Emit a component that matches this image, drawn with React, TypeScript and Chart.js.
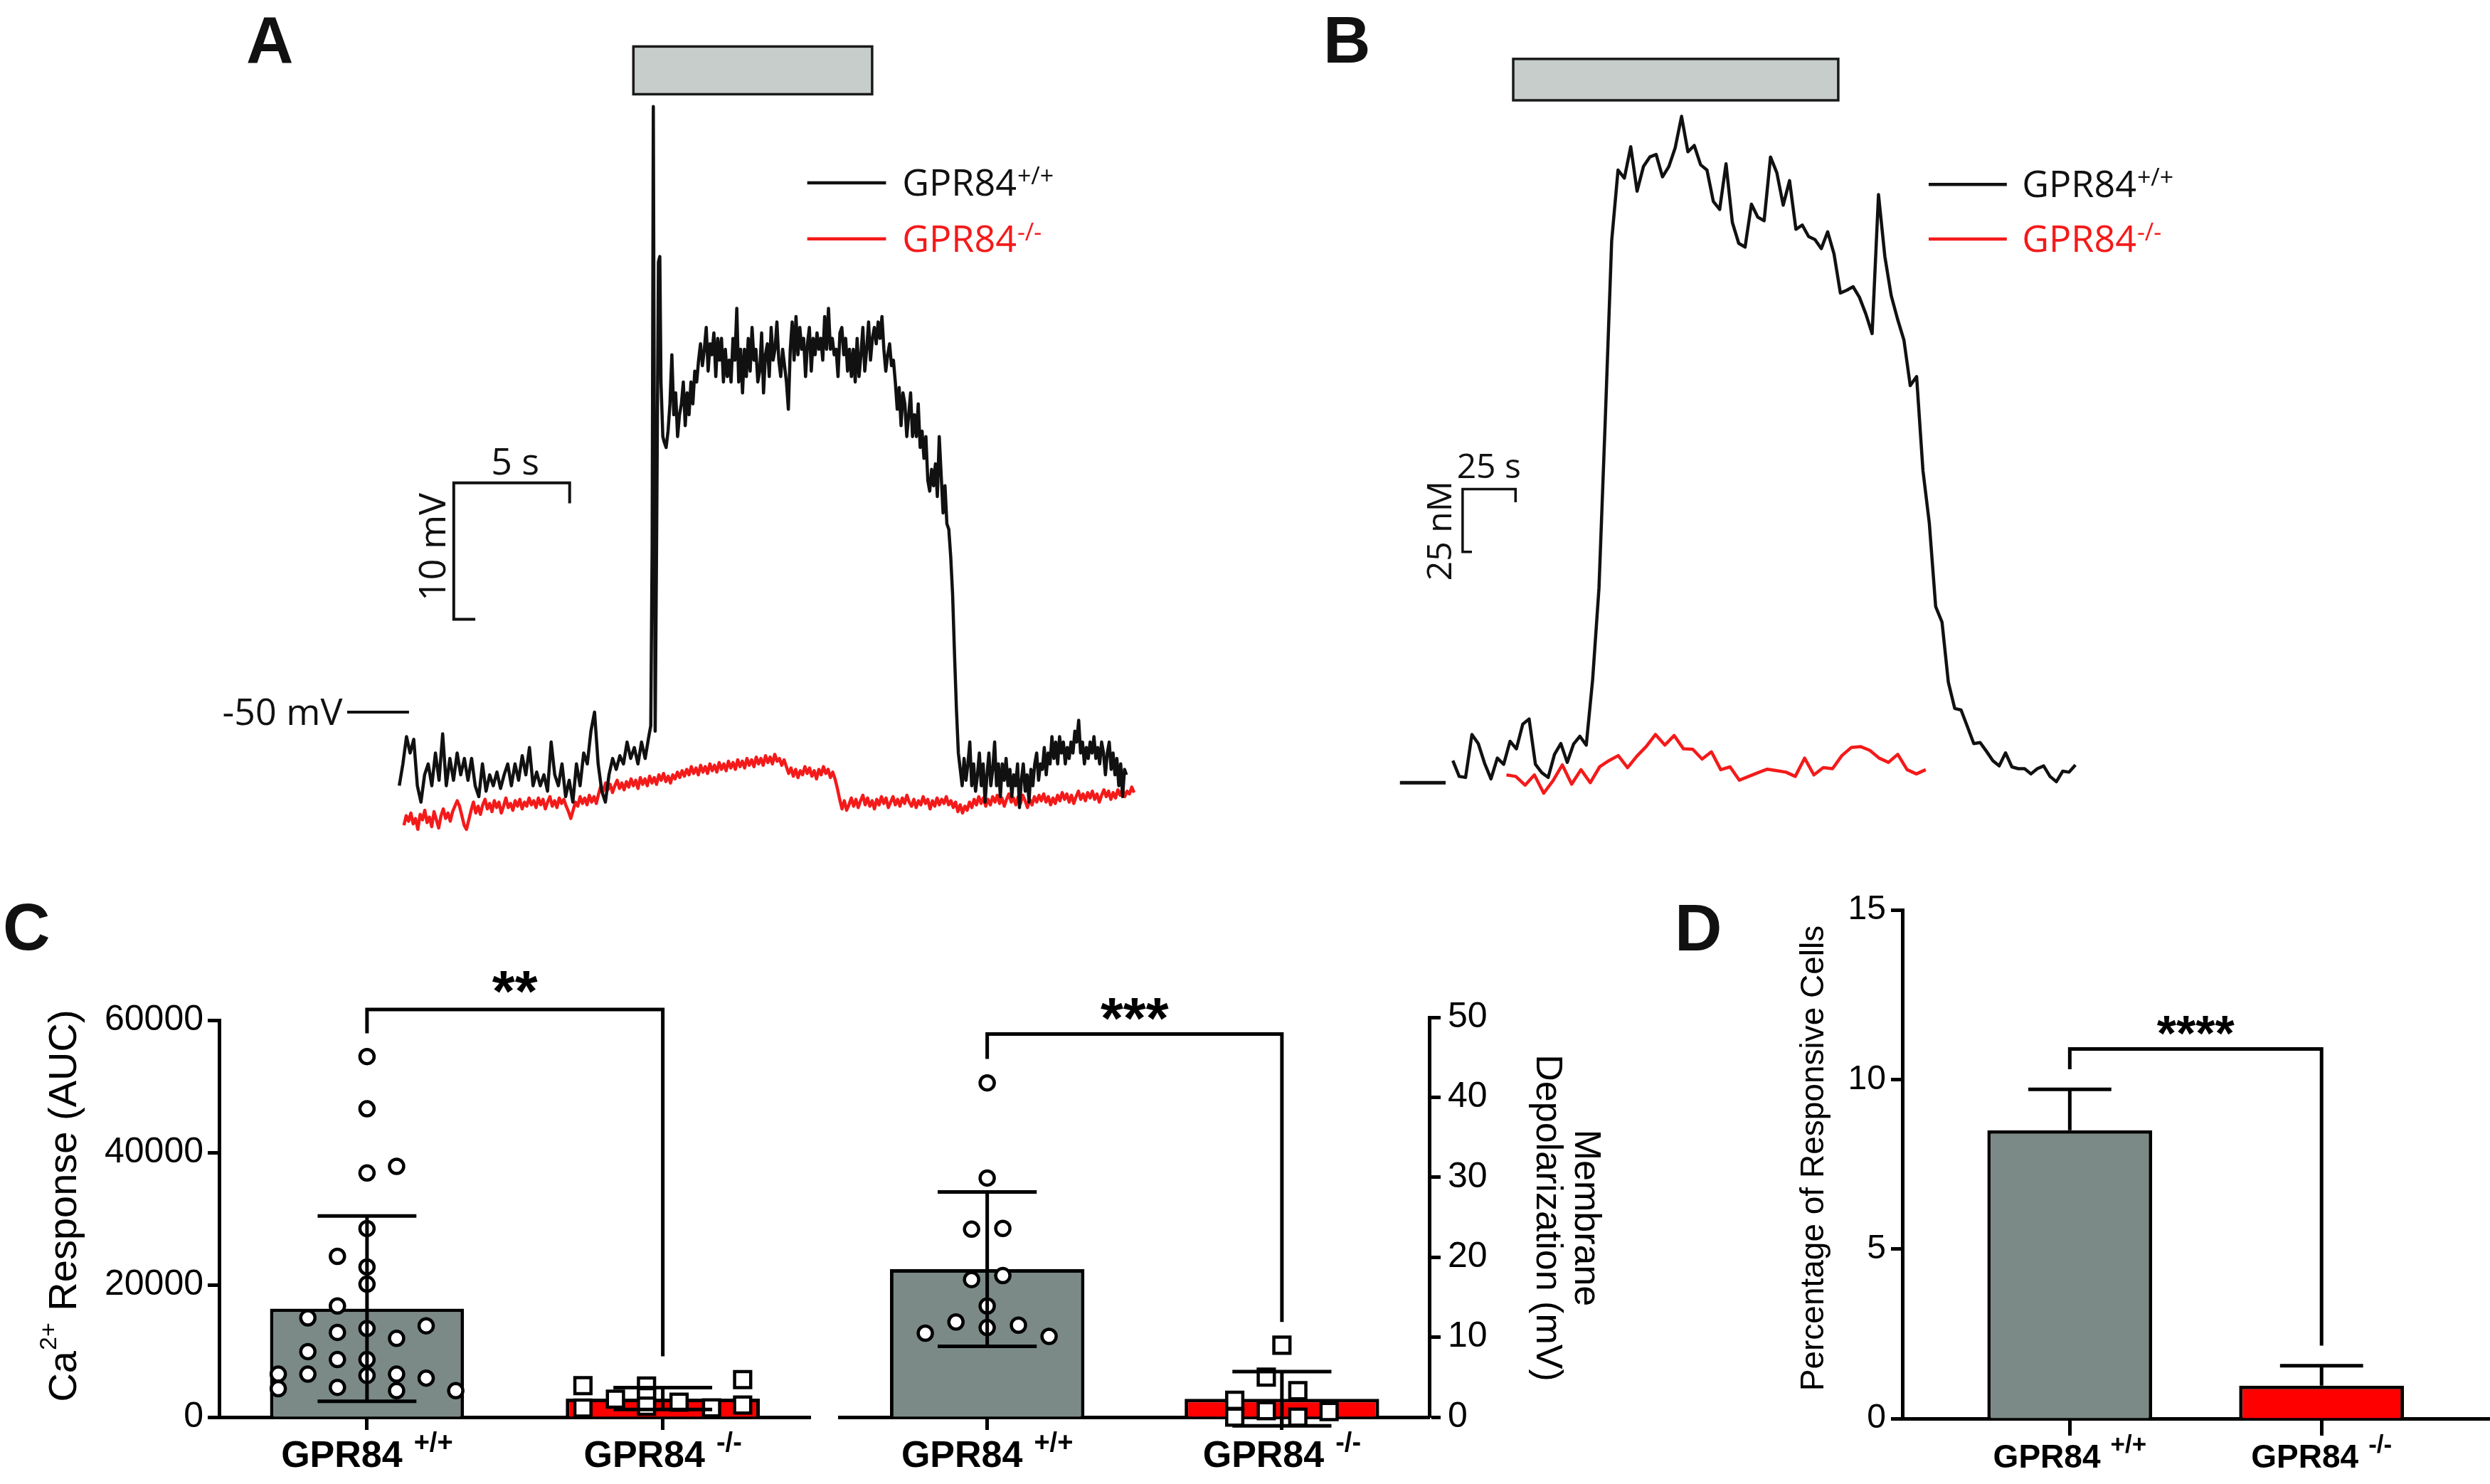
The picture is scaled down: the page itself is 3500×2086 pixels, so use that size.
import React, { useEffect, useRef } from "react";
import { Chart, registerables } from "chart.js";
Chart.register(...registerables);

// ---------------- Panel A: membrane potential traces (s, mV) ----------------
const A_WT_PRE_DT = 0.156;
const A_WT_PRE = [
  -55.4, -53.8, -51.8, -53.0, -52.0, -55.4, -56.6, -54.6, -53.8, -55.4,
  -53.0, -55.0, -51.6, -55.4, -53.4, -55.0, -53.0, -54.6, -53.4, -55.0,
  -53.4, -55.4, -56.2, -53.8, -55.8, -54.6, -55.4, -54.4, -55.6, -54.6,
  -53.8, -55.4, -53.8, -55.0, -53.2, -54.6, -52.6, -55.4, -54.4, -55.4,
  -54.6, -55.8, -52.2, -54.6, -55.4, -53.8, -56.2, -55.0, -56.6, -53.8,
  -55.4, -53.0, -53.8, -51.4, -50.0, -53.8, -55.8, -56.6, -54.6, -53.4,
  -54.2, -53.2, -53.8, -52.2, -53.4, -52.6, -53.8, -52.2, -53.4, -51.8,
];
const A_WT_SPIKE: [number, number][] = [
  [10.85, -51.0], [10.91, -37.8], [10.96, -5.6], [11.04, -51.4], [11.1, -37.8],
  [11.18, -17.0], [11.24, -16.6], [11.29, -25.8], [11.37, -29.8],
];
const A_WT_POST_T0 = 11.43;
const A_WT_POST_DT = 0.0824;
const A_WT_POST = [
  -30.2, -30.6, -29.4, -27.4, -23.8, -28.2, -26.6, -29.8, -28.2, -27.4,
  -25.8, -29.0, -26.6, -28.2, -25.8, -27.4, -25.0, -25.8, -24.2, -23.0,
  -24.6, -23.4, -21.8, -25.0, -23.0, -23.8, -22.2, -25.4, -22.6, -24.2,
  -22.6, -25.8, -23.4, -25.4, -24.2, -25.8, -22.6, -24.2, -20.4, -25.8,
  -23.4, -26.6, -23.4, -25.4, -22.6, -25.0, -21.8, -24.2, -23.4, -25.8,
  -25.0, -22.2, -26.6, -23.8, -23.0, -25.4, -21.8, -24.2, -23.4, -21.4,
  -24.2, -25.4, -23.4, -24.6, -25.8, -27.8, -23.4, -21.4, -24.2, -21.0,
  -23.8, -21.8, -23.4, -22.6, -25.4, -23.0, -21.8, -25.0, -22.6, -23.8,
  -22.2, -23.4, -22.6, -24.2, -21.0, -23.4, -20.4, -23.4, -22.6, -23.8,
  -23.4, -25.4, -22.2, -21.8, -23.8, -22.6, -25.0, -23.4, -25.4, -23.4,
  -25.8, -22.6, -25.4, -23.8, -21.8, -25.0, -23.4, -21.4, -24.2, -22.6,
  -21.8, -23.0, -21.4, -22.6, -21.0, -23.4, -25.0, -23.8, -23.0, -24.6,
  -24.2, -25.8, -27.8, -26.2, -29.0, -26.6, -27.4, -29.8, -28.2, -26.6,
  -29.8, -28.2, -29.8, -27.4, -30.6, -29.4, -31.4, -29.8, -33.0, -33.8,
  -32.2, -33.4, -31.8, -34.2, -29.8, -32.6, -35.4, -33.4, -36.2, -36.6,
  -38.6, -41.4, -45.8, -49.8, -53.0, -54.2, -55.4, -53.4, -55.0, -53.8,
  -52.2, -55.4, -53.8, -55.8, -54.6, -53.0, -55.4, -53.8, -56.6, -54.6,
  -53.0, -55.4, -54.2, -52.2, -55.4, -53.8, -56.2, -53.8, -55.0, -53.4,
  -55.4, -54.2, -56.2, -54.6, -55.4, -53.8, -57.0, -55.0, -53.8, -55.8,
  -54.6, -56.6, -54.2, -55.4, -53.8, -53.0, -55.0, -53.8, -54.2, -52.6,
  -54.6, -53.0, -53.8, -51.8, -53.4, -52.2, -53.8, -51.8, -53.0, -52.2,
  -53.8, -52.6, -53.4, -52.2, -53.0, -51.4, -52.2, -50.6, -53.0, -52.2,
  -53.8, -52.6, -53.4, -52.2, -53.0, -51.8, -53.4, -52.6, -53.8, -52.2,
  -53.0, -54.6, -53.0, -52.2, -54.2, -53.0, -54.6, -53.4, -55.4, -53.8,
  -56.2, -54.2, -54.6,
];
const A_KO_T0 = 0.2;
const A_KO_DT = 0.1;
const A_KO = [
  -58.3, -57.6, -58.0, -57.4, -58.2, -57.8, -58.6, -57.5, -57.9, -57.2,
  -58.1, -57.7, -58.4, -57.3, -57.9, -58.5, -57.6, -57.1, -57.8, -57.4,
  -58.0, -57.3, -56.9,
  -56.5, -56.9, -57.6, -58.3, -58.6, -57.9,
  -57.2, -56.6, -57.4, -56.9, -57.5, -56.8, -56.4, -57.1, -56.7, -57.3,
  -56.5, -57.0, -56.6, -57.4, -56.9, -56.3, -57.0, -56.7, -57.2, -56.5,
  -56.9, -56.4, -57.1, -56.6, -56.9, -56.3, -56.8,
  -56.5, -57.0, -56.3, -56.8, -56.4, -57.1, -56.6, -56.2, -56.9, -56.5,
  -57.0, -56.3, -56.7, -56.4, -56.9, -57.3, -57.8, -57.2, -56.6, -56.9,
  -56.2, -56.7, -56.3, -56.8, -56.1, -56.6, -56.2, -56.7, -56.0,
  -55.4, -55.8, -55.2, -55.7, -55.3, -55.9, -55.4, -55.0, -55.6, -55.2,
  -55.7, -55.1, -55.5, -54.9, -55.4, -55.0, -55.6, -54.8, -55.3, -54.9,
  -55.4, -54.7, -55.2, -54.8, -55.3, -54.6, -55.0, -54.5, -55.1, -54.7,
  -55.2, -54.6, -54.9, -54.4,
  -54.8, -54.3, -54.7, -54.2, -54.6, -54.0, -54.5, -54.1, -54.6, -53.9,
  -54.4, -54.0, -54.5, -53.8, -54.3, -53.9, -54.4, -53.7, -54.2, -53.8,
  -54.3, -53.6, -54.1, -53.7, -54.2, -53.5, -54.0, -53.6, -54.1, -53.4,
  -53.9, -53.5, -54.0, -53.3, -53.8, -53.4, -53.9, -53.2, -53.7, -53.3,
  -53.8, -53.1, -53.6, -53.4, -53.9, -53.5,
  -54.0, -54.5, -54.1, -54.7, -54.2, -54.8, -54.3, -54.6, -54.0, -54.5,
  -54.1, -54.7, -54.3, -54.9, -54.2, -54.6, -54.0, -54.5, -54.2, -54.8,
  -54.4, -54.9,
  -55.6, -56.4, -57.1, -56.5, -57.2, -56.8,
  -56.3, -56.9, -56.4, -57.0, -56.5, -56.1, -56.8, -56.3, -56.9, -56.5,
  -57.1, -56.4, -56.8, -56.2, -56.7, -56.3, -57.0, -56.6, -56.2, -56.8,
  -56.4, -56.9, -56.3, -56.7, -56.1, -56.6, -56.9, -56.4, -57.0, -56.5,
  -56.8, -56.2, -56.7, -56.4, -57.1, -56.5, -56.9, -56.3, -56.8, -56.4,
  -56.7, -56.2, -56.8, -56.5, -57.0, -56.6, -57.3, -56.8, -57.4, -56.9,
  -57.2, -56.6, -57.0, -56.4, -56.8, -56.2, -56.7, -56.3, -56.9, -56.4,
  -56.8, -56.2, -56.6, -56.1, -56.7, -56.3, -56.9, -56.4, -56.0, -56.6,
  -56.3, -56.8, -56.2, -56.7, -56.1, -56.5, -57.0, -56.4, -56.8, -56.2,
  -56.6, -56.1, -56.5, -56.0, -56.6, -56.2, -56.8, -56.3, -56.7, -56.1,
  -56.5, -55.9, -56.4, -56.0, -56.6, -56.1, -56.7, -56.2, -55.8, -56.4,
  -56.0, -56.5, -55.9, -56.3, -55.8, -56.4, -56.0, -56.6, -56.1, -55.7,
  -56.2, -55.8, -56.4, -55.9, -56.3, -55.7, -56.1, -55.6, -56.2, -55.8,
  -56.0, -55.5, -55.9,
];
const A_STIM_T = [10.1, 20.4];
const A_STIM_V = [-4.7, -1.2];
const A_SCALE = { t0: 2.35, dt: 5, v0: -33.2, dv: 10, tick: 1.5, foot: 0.93 };
const A_REST_MV = -50;

// ---------------- Panel B: calcium traces (s, nM) ----------------
const B_WT_DT = 3.0;
const B_WT = [
  8.8, 2.5, 2.1, 19.2, 15.6, 7.7, 1.5, 9.8, 7.3, 16.5,
  13.5, 23.3, 25.4, 7.3, 4.0, 2.1, 11.3, 15.6, 8.1, 15.4,
  18.5, 15.0, 41.0, 77.5, 145.2, 216.0, 244.2, 241.0, 253.5, 235.8,
  245.6, 249.4, 250.4, 241.5, 245.6, 253.1, 265.6, 251.5, 254.0, 246.3,
  244.2, 231.7, 228.5, 246.7, 223.3, 215.0, 213.5, 230.6, 225.4, 224.0,
  249.4, 243.1, 230.2, 240.0, 220.6, 222.3, 217.7, 216.5, 212.9, 219.6,
  210.8, 195.2, 196.3, 197.7, 193.5, 186.9, 179.0, 234.4, 209.8, 194.2,
  184.8, 176.5, 158.3, 161.9, 124.4, 103.5, 70.2, 64.0, 40.0, 29.6,
  29.0, 22.3, 15.6, 16.0, 12.5, 8.8, 6.7, 11.9, 6.3, 5.6,
  5.6, 3.5, 5.6, 6.7, 2.5, 0.4, 4.6, 4.2, 7.1,
];
const B_KO_T0 = 25.3;
const B_KO_DT = 4.4;
const B_KO = [
  3.1, 2.5, -1.0, 3.1, -4.2, 0.8, 7.1, -0.6, 5.2, 0,
  6.3, 8.8, 10.8, 6.0, 10.6, 14.4, 19.2, 15.0, 18.8, 13.5,
  13.3, 9.4, 12.3, 5.2, 6.3, 1.0, 2.5, 4.0, 5.4, 4.8,
  4.2, 2.5, 9.8, 3.1, 6.0, 5.6, 10.8, 14.0, 14.4, 12.9,
  9.8, 8.1, 11.3, 5.2, 3.5, 5.2,
];
const B_STIM_T = [28.5, 182];
const B_STIM_C = [272, 288.5];
const B_SCALE = { t0: 4.6, dt: 25, c0: 117, dc: 25, tick: 5.2, foot: 4.4 };

// ---------------- Panel C ----------------
const GROUPS = ["GPR84", "GPR84"];
const GROUP_SUP = ["+/+", "-/-"];
const C_AUC_MEAN = [16400, 2800];
const C_AUC_SD = [14000, 1650];
const C_AUC_WT = [54500, 46600, 36900, 37900, 28500, 24300, 22700, 20100, 16800, 15000, 13800, 13400, 12800, 11900, 9900, 8700, 8700, 6500, 6500, 6300, 6500, 5900, 4300, 4500, 4000, 4000];
const C_AUC_WT_JIT = [0, 0, 0, 0.1, 0, -0.1, 0, 0, -0.1, -0.2, 0.2, 0, -0.1, 0.1, -0.2, -0.1, 0, -0.3, -0.2, 0, 0.1, 0.2, -0.3, -0.1, 0.1, 0.3];
const C_AUC_KO = [4760, 1370, 2720, 4700, 3090, 1650, 2260, 1400, 5670, 1830];
const C_AUC_KO_JIT = [-0.27, -0.27, -0.16, -0.055, -0.055, -0.055, 0.055, 0.165, 0.27, 0.27];
const C_AUC_SIG = { top: 61600, left: 58000, right: 9200, label: "**" };

const C_MV_MEAN = [18.5, 2.3];
const C_MV_SD = [9.65, 3.4];
const C_MV_WT = [41.8, 29.9, 23.5, 23.6, 17.2, 17.7, 13.9, 11.9, 11.5, 11.2, 10.5, 10.1];
const C_MV_WT_JIT = [0, 0, -0.053, 0.053, -0.053, 0.053, 0, -0.106, 0.106, 0, -0.21, 0.21];
const C_MV_KO = [9.0, 5.0, 3.3, 2.1, 0, 0.8, 0, 0.7];
const C_MV_KO_JIT = [0, -0.053, 0.054, -0.16, -0.16, -0.053, 0.054, 0.16];
const C_MV_SIG = { top: 47.9, left: 44.8, right: 11.9, label: "***" };

// ---------------- Panel D ----------------
const D_MEAN = [8.5, 0.97];
const D_SEM = [1.21, 0.59];
const D_SIG = { top: 10.9, left: 10.3, right: 2.15, label: "****" };

// ---------------- styles ----------------
const GRAY = "#7b8a87";
const RED = "#ff0000";
const RED_TRACE = "#f41a1a";
const INK = "#111111";
const STIM_FILL = "#c6cdca";
const SANS = '"Liberation Sans", Arial, sans-serif';
const OPEN = '"Open Sans", "Liberation Sans", sans-serif';

type Part = { text: string; font: string; rise?: number; gap?: number };

function drawParts(ctx: CanvasRenderingContext2D, parts: Part[], x: number, y: number, align: "left" | "center" | "right", color: string) {
  ctx.save();
  ctx.fillStyle = color;
  ctx.textBaseline = "alphabetic";
  ctx.textAlign = "left";
  const widths = parts.map((p) => {
    ctx.font = p.font;
    return ctx.measureText(p.text).width + (p.gap || 0);
  });
  const total = widths.reduce((a, b) => a + b, 0);
  let cx = align === "left" ? x : align === "center" ? x - total / 2 : x - total;
  parts.forEach((p, i) => {
    ctx.font = p.font;
    cx += p.gap || 0;
    ctx.fillText(p.text, cx, y - (p.rise || 0));
    cx += widths[i] - (p.gap || 0);
  });
  ctx.restore();
}

function drawRotated(ctx: CanvasRenderingContext2D, parts: Part[], x: number, y: number, angle: number, color: string) {
  ctx.save();
  ctx.translate(x, y);
  ctx.rotate(angle);
  drawParts(ctx, parts, 0, 0, "center", color);
  ctx.restore();
}

function inkCenterText(ctx: CanvasRenderingContext2D, text: string, cx: number, cy: number, font: string, color: string) {
  ctx.save();
  ctx.font = font;
  ctx.fillStyle = color;
  ctx.textAlign = "center";
  ctx.textBaseline = "alphabetic";
  const m = ctx.measureText(text);
  ctx.fillText(text, cx, cy + (m.actualBoundingBoxAscent - m.actualBoundingBoxDescent) / 2);
  ctx.restore();
}

function legendRow(ctx: CanvasRenderingContext2D, x0: number, x1: number, y: number, tx: number, color: string, lw: number, sup: string) {
  ctx.save();
  ctx.strokeStyle = color;
  ctx.lineWidth = lw;
  ctx.beginPath();
  ctx.moveTo(x0, y);
  ctx.lineTo(x1, y);
  ctx.stroke();
  ctx.restore();
  drawParts(ctx, [
    { text: "GPR84", font: `52px ${OPEN}` },
    { text: sup, font: `34px ${OPEN}`, rise: 16, gap: 1 },
  ], tx, y + 18, "left", color);
}

// ---------------- generic chart box ----------------
function ChartBox({ left, top, width, height, make }: { left: number; top: number; width: number; height: number; make: () => any }) {
  const ref = useRef<HTMLCanvasElement | null>(null);
  useEffect(() => {
    const chart = new Chart(ref.current as HTMLCanvasElement, make());
    return () => chart.destroy();
  }, []);
  return <canvas ref={ref} width={width} height={height} style={{ position: "absolute", left, top, width, height }} />;
}

const baseOpts = {
  responsive: false,
  animation: false,
  devicePixelRatio: 1,
  events: [],
  plugins: { legend: { display: false }, tooltip: { enabled: false } },
};

// ---------------- Panel A ----------------
function makeA() {
  const wt = [
    ...A_WT_PRE.map((v, i) => ({ x: i * A_WT_PRE_DT, y: v })),
    ...A_WT_SPIKE.map(([x, y]) => ({ x, y })),
    ...A_WT_POST.map((v, i) => ({ x: A_WT_POST_T0 + i * A_WT_POST_DT, y: v })),
  ];
  const ko = A_KO.map((v, i) => ({ x: A_KO_T0 + i * A_KO_DT, y: v }));
  const plugin = {
    id: "annA",
    afterDatasetsDraw(chart: any) {
      const ctx: CanvasRenderingContext2D = chart.ctx;
      const X = (v: number) => chart.scales.x.getPixelForValue(v);
      const Y = (v: number) => chart.scales.y.getPixelForValue(v);
      ctx.save();
      ctx.fillStyle = STIM_FILL;
      ctx.strokeStyle = "#1a1a1a";
      ctx.lineWidth = 3.5;
      const sx = X(A_STIM_T[0]), sw = X(A_STIM_T[1]) - sx, sy = Y(A_STIM_V[1]), sh = Y(A_STIM_V[0]) - sy;
      ctx.fillRect(sx, sy, sw, sh);
      ctx.strokeRect(sx, sy, sw, sh);
      const s = A_SCALE;
      ctx.strokeStyle = INK;
      ctx.lineWidth = 4;
      ctx.lineJoin = "miter";
      ctx.beginPath();
      ctx.moveTo(X(s.t0 + s.dt), Y(s.v0 - s.tick));
      ctx.lineTo(X(s.t0 + s.dt), Y(s.v0));
      ctx.lineTo(X(s.t0), Y(s.v0));
      ctx.lineTo(X(s.t0), Y(s.v0 - s.dv));
      ctx.lineTo(X(s.t0 + s.foot), Y(s.v0 - s.dv));
      ctx.stroke();
      ctx.beginPath();
      ctx.moveTo(X(-2.25), Y(A_REST_MV));
      ctx.lineTo(X(0.42), Y(A_REST_MV));
      ctx.stroke();
      ctx.restore();
      drawParts(ctx, [{ text: "5 s", font: `52px ${OPEN}` }], X(5.0), Y(s.v0) - 12, "center", INK);
      drawRotated(ctx, [{ text: "10 mV", font: `52px ${OPEN}` }], X(1.98), Y(-37.9), -Math.PI / 2, INK);
      drawParts(ctx, [{ text: "-50 mV", font: `52px ${OPEN}` }], X(-2.45), Y(A_REST_MV) + 18, "right", INK);
      legendRow(ctx, X(17.6), X(21.0), Y(-11.2), X(21.7), INK, 4.5, "+/+");
      legendRow(ctx, X(17.6), X(21.0), Y(-15.3), X(21.7), RED_TRACE, 4.5, "-/-");
    },
  };
  return {
    type: "scatter",
    data: {
      datasets: [
        { data: wt, showLine: true, borderColor: INK, borderWidth: 4.5, pointRadius: 0, tension: 0, borderJoinStyle: "round", clip: false },
        { data: ko, showLine: true, borderColor: RED_TRACE, borderWidth: 4.5, pointRadius: 0, tension: 0, borderJoinStyle: "round", clip: false },
      ],
    },
    options: {
      ...baseOpts,
      layout: { padding: 0 },
      scales: {
        x: { type: "linear", min: -9, max: 34, display: false },
        y: { type: "linear", min: -62, max: 2, display: false },
      },
    },
    plugins: [plugin],
  };
}

// ---------------- Panel B ----------------
function makeB() {
  const wt = B_WT.map((v, i) => ({ x: i * B_WT_DT, y: v }));
  const ko = B_KO.map((v, i) => ({ x: B_KO_T0 + i * B_KO_DT, y: v }));
  const plugin = {
    id: "annB",
    afterDatasetsDraw(chart: any) {
      const ctx: CanvasRenderingContext2D = chart.ctx;
      const X = (v: number) => chart.scales.x.getPixelForValue(v);
      const Y = (v: number) => chart.scales.y.getPixelForValue(v);
      ctx.save();
      ctx.fillStyle = STIM_FILL;
      ctx.strokeStyle = "#1a1a1a";
      ctx.lineWidth = 3.5;
      const sx = X(B_STIM_T[0]), sw = X(B_STIM_T[1]) - sx, sy = Y(B_STIM_C[1]), sh = Y(B_STIM_C[0]) - sy;
      ctx.fillRect(sx, sy, sw, sh);
      ctx.strokeRect(sx, sy, sw, sh);
      const s = B_SCALE;
      ctx.strokeStyle = INK;
      ctx.lineWidth = 3.5;
      ctx.beginPath();
      ctx.moveTo(X(s.t0 + s.dt), Y(s.c0 - s.tick));
      ctx.lineTo(X(s.t0 + s.dt), Y(s.c0));
      ctx.lineTo(X(s.t0), Y(s.c0));
      ctx.lineTo(X(s.t0), Y(s.c0 - s.dc));
      ctx.lineTo(X(s.t0 + s.foot), Y(s.c0 - s.dc));
      ctx.stroke();
      ctx.lineWidth = 5;
      ctx.beginPath();
      ctx.moveTo(X(-25), Y(0));
      ctx.lineTo(X(-3.4), Y(0));
      ctx.stroke();
      ctx.restore();
      drawParts(ctx, [{ text: "25 s", font: `48px ${OPEN}` }], X(17), Y(121.3), "center", INK);
      drawRotated(ctx, [{ text: "25 nM", font: `48px ${OPEN}` }], X(-0.6), Y(100.4), -Math.PI / 2, INK);
      legendRow(ctx, X(224.7), X(261.6), Y(238.5), X(268.8), INK, 4.5, "+/+");
      legendRow(ctx, X(224.7), X(261.6), Y(216.7), X(268.8), RED_TRACE, 4.5, "-/-");
    },
  };
  return {
    type: "scatter",
    data: {
      datasets: [
        { data: wt, showLine: true, borderColor: INK, borderWidth: 4.5, pointRadius: 0, tension: 0, borderJoinStyle: "round", clip: false },
        { data: ko, showLine: true, borderColor: RED_TRACE, borderWidth: 4.5, pointRadius: 0, tension: 0, borderJoinStyle: "round", clip: false },
      ],
    },
    options: {
      ...baseOpts,
      layout: { padding: 0 },
      scales: {
        x: { type: "linear", min: -35, max: 390, display: false },
        y: { type: "linear", min: -30, max: 310, display: false },
      },
    },
    plugins: [plugin],
  };
}

// ---------------- bar charts (C, D) ----------------
type BarSpec = {
  means: number[];
  errs: number[];
  upOnly: boolean;
  capHalf: number;
  wt?: number[];
  wtJit?: number[];
  ko?: number[];
  koJit?: number[];
  sig: { top: number; left: number; right: number; label: string };
  starFont: string;
  starGap: number;
  xmin: number;
  xmax: number;
  ymax: number;
  step: number;
  yPos: "left" | "right";
  yWidth: number;
  xHeight: number;
  padding: any;
  tickFont: number;
  tickPad: number;
  xTick: number;
  barPct: number;
  labelFont: number;
  supFont: number;
  supRise: number;
  supGap: number;
  labelDy: number;
  titles: (ctx: CanvasRenderingContext2D, chart: any) => void;
};

function makeBars(s: BarSpec) {
  const datasets: any[] = [
    {
      type: "bar",
      data: s.means.map((y, i) => ({ x: i, y })),
      backgroundColor: [GRAY, RED],
      borderColor: "#000",
      borderWidth: 5,
      barPercentage: s.barPct,
      categoryPercentage: 1,
      order: 3,
    },
  ];
  if (s.wt && s.wtJit) {
    datasets.push({
      type: "scatter",
      data: s.wt.map((y, i) => ({ x: 0 + (s.wtJit as number[])[i], y })),
      pointStyle: "circle",
      pointRadius: 10,
      pointBorderWidth: 4.5,
      pointBackgroundColor: "#fff",
      pointBorderColor: "#000",
      order: 1,
      clip: false,
    });
  }
  if (s.ko && s.koJit) {
    datasets.push({
      type: "scatter",
      data: s.ko.map((y, i) => ({ x: 1 + (s.koJit as number[])[i], y })),
      pointStyle: "rect",
      pointRadius: 16,
      pointBorderWidth: 4.5,
      pointBackgroundColor: "#fff",
      pointBorderColor: "#000",
      order: 1,
      clip: false,
    });
  }
  const plugin = {
    id: "annBars",
    afterDatasetsDraw(chart: any) {
      const ctx: CanvasRenderingContext2D = chart.ctx;
      const X = (v: number) => chart.scales.x.getPixelForValue(v);
      const Y = (v: number) => chart.scales.y.getPixelForValue(v);
      ctx.save();
      ctx.strokeStyle = "#000";
      ctx.lineWidth = 5;
      ctx.lineCap = "butt";
      s.means.forEach((m, i) => {
        const lo = s.upOnly ? m : m - s.errs[i];
        const hi = m + s.errs[i];
        ctx.beginPath();
        ctx.moveTo(X(i), Y(lo));
        ctx.lineTo(X(i), Y(hi));
        ctx.moveTo(X(i - s.capHalf), Y(hi));
        ctx.lineTo(X(i + s.capHalf), Y(hi));
        if (!s.upOnly) {
          ctx.moveTo(X(i - s.capHalf), Y(lo));
          ctx.lineTo(X(i + s.capHalf), Y(lo));
        }
        ctx.stroke();
      });
      ctx.lineJoin = "miter";
      ctx.beginPath();
      ctx.moveTo(X(0), Y(s.sig.left));
      ctx.lineTo(X(0), Y(s.sig.top));
      ctx.lineTo(X(1), Y(s.sig.top));
      ctx.lineTo(X(1), Y(s.sig.right));
      ctx.stroke();
      ctx.restore();
      inkCenterText(ctx, s.sig.label, X(0.5), Y(s.sig.top) - s.starGap, s.starFont, "#000");
    },
    afterDraw(chart: any) {
      const ctx: CanvasRenderingContext2D = chart.ctx;
      const X = (v: number) => chart.scales.x.getPixelForValue(v);
      const base = chart.chartArea.bottom + s.labelDy;
      GROUPS.forEach((g, i) => {
        drawParts(ctx, [
          { text: g, font: `bold ${s.labelFont}px ${SANS}` },
          { text: GROUP_SUP[i], font: `bold ${s.supFont}px ${SANS}`, rise: s.supRise, gap: s.supGap },
        ], X(i), base, "center", "#000");
      });
      s.titles(ctx, chart);
    },
  };
  return {
    type: "bar",
    data: { datasets },
    options: {
      ...baseOpts,
      layout: { padding: s.padding },
      scales: {
        x: {
          type: "linear",
          min: s.xmin,
          max: s.xmax,
          offset: false,
          afterBuildTicks: (sc: any) => {
            sc.ticks = [{ value: 0 }, { value: 1 }];
          },
          afterFit: (sc: any) => {
            sc.height = s.xHeight;
          },
          ticks: { display: false },
          grid: { display: true, drawOnChartArea: false, drawTicks: true, tickLength: s.xTick, tickWidth: 5, tickColor: "#000", offset: false },
          border: { display: true, width: 5, color: "#000" },
        },
        y: {
          type: "linear",
          position: s.yPos,
          min: 0,
          max: s.ymax,
          afterFit: (sc: any) => {
            sc.width = s.yWidth;
          },
          ticks: {
            stepSize: s.step,
            color: "#000",
            padding: s.tickPad,
            font: { family: "Liberation Sans", size: s.tickFont },
            callback: (v: any) => String(v),
          },
          grid: { display: true, drawOnChartArea: false, drawTicks: true, tickLength: 16, tickWidth: 5, tickColor: "#000" },
          border: { display: true, width: 5, color: "#000" },
        },
      },
    },
    plugins: [plugin],
  };
}

function makeC1() {
  return makeBars({
    means: C_AUC_MEAN, errs: C_AUC_SD, upOnly: false, capHalf: 0.167,
    wt: C_AUC_WT, wtJit: C_AUC_WT_JIT, ko: C_AUC_KO, koJit: C_AUC_KO_JIT,
    sig: C_AUC_SIG, starFont: `bold 82px ${SANS}`, starGap: 39,
    xmin: -0.5, xmax: 1.5, ymax: 60000, step: 20000, yPos: "left",
    yWidth: 308, xHeight: 94, padding: { top: 184, right: 13, left: 0, bottom: 0 },
    tickFont: 50, tickPad: 6, xTick: 18, barPct: 0.656,
    labelFont: 52, supFont: 38, supRise: 22, supGap: 16, labelDy: 70,
    titles: (ctx) => {
      drawRotated(ctx, [
        { text: "Ca", font: `56px ${SANS}` },
        { text: "2+", font: `34px ${SANS}`, rise: 28, gap: 1 },
        { text: " Response (AUC)", font: `56px ${SANS}`, gap: 1 },
      ], 107, 445, -Math.PI / 2, "#000");
    },
  });
}

function makeC2() {
  return makeBars({
    means: C_MV_MEAN, errs: C_MV_SD, upOnly: false, capHalf: 0.168,
    wt: C_MV_WT, wtJit: C_MV_WT_JIT, ko: C_MV_KO, koJit: C_MV_KO_JIT,
    sig: C_MV_SIG, starFont: `bold 82px ${SANS}`, starGap: 35,
    xmin: -0.5, xmax: 1.5, ymax: 50, step: 10, yPos: "right",
    yWidth: 291, xHeight: 94, padding: { top: 180, right: 0, left: 15, bottom: 0 },
    tickFont: 50, tickPad: 10, xTick: 18, barPct: 0.66,
    labelFont: 52, supFont: 38, supRise: 22, supGap: 16, labelDy: 70,
    titles: (ctx) => {
      drawRotated(ctx, [{ text: "Membrane", font: `52px ${SANS}` }], 1054, 462, Math.PI / 2, "#000");
      drawRotated(ctx, [{ text: "Depolarization (mV)", font: `52px ${SANS}` }], 1000, 462, Math.PI / 2, "#000");
    },
  });
}

function makeD() {
  return makeBars({
    means: D_MEAN, errs: D_SEM, upOnly: true, capHalf: 0.165,
    sig: D_SIG, starFont: `bold 70px ${SANS}`, starGap: 33,
    xmin: -0.665, xmax: 1.669, ymax: 15, step: 5, yPos: "left",
    yWidth: 374, xHeight: 92, padding: { top: 79, right: 0, left: 0, bottom: 0 },
    tickFont: 48, tickPad: 7, xTick: 24, barPct: 0.655,
    labelFont: 46, supFont: 35, supRise: 21, supGap: 14, labelDy: 69,
    titles: (ctx) => {
      drawRotated(ctx, [{ text: "Percentage of Responsive Cells", font: `46px ${SANS}` }], 263, 428, -Math.PI / 2, "#000");
    },
  });
}

const letterStyle = (left: number, baseline: number): React.CSSProperties => ({
  position: "absolute",
  left,
  top: baseline - 78,
  fontFamily: SANS,
  fontWeight: 700,
  fontSize: 92,
  lineHeight: "92px",
  color: "#111",
  margin: 0,
});

export default function App() {
  useEffect(() => {
    document.body.style.margin = "0";
    document.body.style.background = "#fff";
  }, []);
  return (
    <div style={{ position: "absolute", left: 0, top: 0, width: 3500, height: 2086, background: "#fff", overflow: "hidden" }}>
      <ChartBox left={268} top={4} width={1401} height={1227} make={makeA} />
      <ChartBox left={1938} top={7} width={1265} height={1199} make={makeB} />
      <ChartBox left={0} top={1250} width={1160} height={836} make={makeC1} />
      <ChartBox left={1160} top={1250} width={1140} height={836} make={makeC2} />
      <ChartBox left={2300} top={1200} width={1200} height={886} make={makeD} />
      <div style={letterStyle(346, 88)}>A</div>
      <div style={letterStyle(1860, 88)}>B</div>
      <div style={letterStyle(4, 1335)}>C</div>
      <div style={letterStyle(2354, 1336)}>D</div>
    </div>
  );
}
